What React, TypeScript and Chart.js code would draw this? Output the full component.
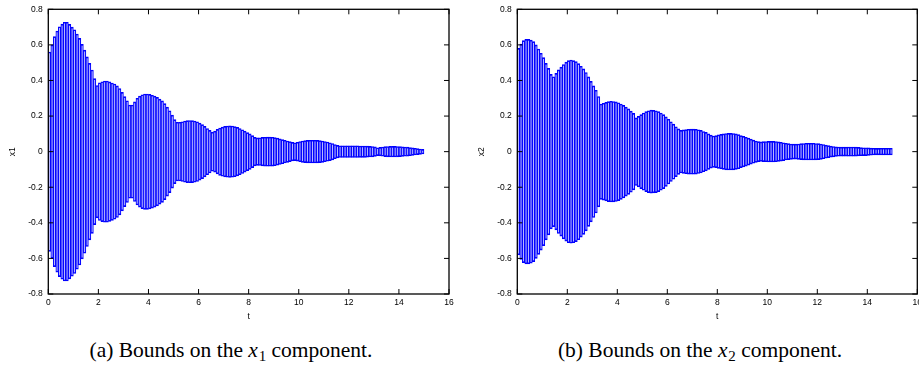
import React, { useEffect, useRef } from 'react';
import { Chart, registerables } from 'chart.js';

Chart.register(...registerables);

// start time of each interval (step 0.1)
const timeStarts = [
  0.0, 0.1, 0.2, 0.3, 0.4, 0.5, 0.6, 0.7, 0.8, 0.9,
  1.0, 1.1, 1.2, 1.3, 1.4, 1.5, 1.6, 1.7, 1.8, 1.9,
  2.0, 2.1, 2.2, 2.3, 2.4, 2.5, 2.6, 2.7, 2.8, 2.9,
  3.0, 3.1, 3.2, 3.3, 3.4, 3.5, 3.6, 3.7, 3.8, 3.9,
  4.0, 4.1, 4.2, 4.3, 4.4, 4.5, 4.6, 4.7, 4.8, 4.9,
  5.0, 5.1, 5.2, 5.3, 5.4, 5.5, 5.6, 5.7, 5.8, 5.9,
  6.0, 6.1, 6.2, 6.3, 6.4, 6.5, 6.6, 6.7, 6.8, 6.9,
  7.0, 7.1, 7.2, 7.3, 7.4, 7.5, 7.6, 7.7, 7.8, 7.9,
  8.0, 8.1, 8.2, 8.3, 8.4, 8.5, 8.6, 8.7, 8.8, 8.9,
  9.0, 9.1, 9.2, 9.3, 9.4, 9.5, 9.6, 9.7, 9.8, 9.9,
  10.0, 10.1, 10.2, 10.3, 10.4, 10.5, 10.6, 10.7, 10.8, 10.9,
  11.0, 11.1, 11.2, 11.3, 11.4, 11.5, 11.6, 11.7, 11.8, 11.9,
  12.0, 12.1, 12.2, 12.3, 12.4, 12.5, 12.6, 12.7, 12.8, 12.9,
  13.0, 13.1, 13.2, 13.3, 13.4, 13.5, 13.6, 13.7, 13.8, 13.9,
  14.0, 14.1, 14.2, 14.3, 14.4, 14.5, 14.6, 14.7, 14.8, 14.9,
];
const STEP = 0.1;

const x1Upper = [
  0.56, 0.60, 0.646, 0.678, 0.702, 0.717, 0.727, 0.727, 0.715, 0.70,
  0.685, 0.661, 0.637, 0.603, 0.571, 0.533, 0.496, 0.459, 0.41, 0.372,
  0.387, 0.393, 0.397, 0.397, 0.392, 0.386, 0.38, 0.37, 0.355, 0.333,
  0.309, 0.286, 0.262, 0.262, 0.28, 0.30, 0.312, 0.32, 0.324, 0.324,
  0.322, 0.317, 0.312, 0.305, 0.295, 0.285, 0.27, 0.25, 0.23, 0.205,
  0.18, 0.165, 0.165, 0.168, 0.172, 0.174, 0.175, 0.174, 0.172, 0.168,
  0.16, 0.152, 0.142, 0.13, 0.12, 0.11, 0.115, 0.125, 0.133, 0.138,
  0.142, 0.144, 0.145, 0.144, 0.141, 0.136, 0.13, 0.123, 0.115, 0.107,
  0.1, 0.09, 0.08, 0.077, 0.078, 0.08, 0.081, 0.082, 0.082, 0.081,
  0.079, 0.076, 0.072, 0.068, 0.064, 0.06, 0.056, 0.052, 0.05, 0.053,
  0.057, 0.06, 0.062, 0.063, 0.064, 0.064, 0.064, 0.063, 0.062, 0.06,
  0.057, 0.054, 0.05, 0.046, 0.04, 0.035, 0.033, 0.033, 0.033, 0.033,
  0.033, 0.033, 0.033, 0.033, 0.032, 0.032, 0.032, 0.031, 0.03, 0.029,
  0.027, 0.022, 0.024, 0.026, 0.028, 0.029, 0.03, 0.03, 0.03, 0.029,
  0.028, 0.027, 0.026, 0.025, 0.023, 0.021, 0.019, 0.017, 0.015, 0.013,
];
const x1Lower = [
  -0.56, -0.60, -0.646, -0.678, -0.702, -0.717, -0.727, -0.727, -0.715, -0.70,
  -0.685, -0.661, -0.637, -0.603, -0.571, -0.533, -0.496, -0.459, -0.41, -0.372,
  -0.387, -0.393, -0.397, -0.397, -0.392, -0.386, -0.38, -0.37, -0.355, -0.333,
  -0.309, -0.286, -0.262, -0.262, -0.28, -0.30, -0.312, -0.32, -0.324, -0.324,
  -0.322, -0.317, -0.312, -0.305, -0.295, -0.285, -0.27, -0.25, -0.23, -0.205,
  -0.18, -0.165, -0.165, -0.168, -0.172, -0.174, -0.175, -0.174, -0.172, -0.168,
  -0.16, -0.152, -0.142, -0.13, -0.12, -0.11, -0.115, -0.125, -0.133, -0.138,
  -0.142, -0.144, -0.145, -0.144, -0.141, -0.136, -0.13, -0.123, -0.115, -0.107,
  -0.1, -0.09, -0.08, -0.077, -0.078, -0.08, -0.081, -0.082, -0.082, -0.081,
  -0.079, -0.076, -0.072, -0.068, -0.064, -0.06, -0.056, -0.052, -0.05, -0.053,
  -0.057, -0.06, -0.062, -0.063, -0.064, -0.064, -0.064, -0.063, -0.062, -0.06,
  -0.057, -0.054, -0.05, -0.046, -0.04, -0.035, -0.033, -0.033, -0.033, -0.033,
  -0.033, -0.033, -0.033, -0.033, -0.032, -0.032, -0.032, -0.031, -0.03, -0.029,
  -0.027, -0.022, -0.024, -0.026, -0.028, -0.029, -0.03, -0.03, -0.03, -0.029,
  -0.028, -0.027, -0.026, -0.025, -0.023, -0.021, -0.019, -0.017, -0.015, -0.013,
];

const x2Upper = [
  0.58, 0.605, 0.624, 0.631, 0.631, 0.627, 0.618, 0.60, 0.577, 0.553,
  0.528, 0.496, 0.468, 0.434, 0.421, 0.44, 0.46, 0.475, 0.49, 0.503,
  0.512, 0.515, 0.512, 0.506, 0.495, 0.48, 0.465, 0.445, 0.42, 0.395,
  0.37, 0.345, 0.31, 0.268, 0.272, 0.277, 0.281, 0.283, 0.282, 0.28,
  0.275, 0.268, 0.26, 0.25, 0.24, 0.228, 0.215, 0.19, 0.198, 0.208,
  0.217, 0.225, 0.23, 0.233, 0.232, 0.23, 0.225, 0.217, 0.208, 0.195,
  0.182, 0.168, 0.155, 0.14, 0.128, 0.12, 0.122, 0.124, 0.126, 0.127,
  0.127, 0.126, 0.123, 0.12, 0.113, 0.108, 0.1, 0.093, 0.088, 0.09,
  0.094, 0.097, 0.1, 0.102, 0.103, 0.103, 0.102, 0.1, 0.096, 0.09,
  0.086, 0.081, 0.076, 0.07, 0.065, 0.06, 0.056, 0.055, 0.056, 0.057,
  0.058, 0.058, 0.058, 0.057, 0.055, 0.053, 0.05, 0.047, 0.045, 0.043,
  0.042, 0.042, 0.043, 0.045, 0.046, 0.047, 0.047, 0.047, 0.047, 0.046,
  0.045, 0.043, 0.04, 0.037, 0.034, 0.031, 0.029, 0.027, 0.026, 0.025,
  0.025, 0.025, 0.026, 0.026, 0.026, 0.025, 0.024, 0.023, 0.022, 0.022,
  0.021, 0.02, 0.019, 0.018, 0.018, 0.019, 0.019, 0.019, 0.019, 0.019,
];
const x2Lower = [
  -0.58, -0.605, -0.624, -0.631, -0.631, -0.627, -0.618, -0.60, -0.577, -0.553,
  -0.528, -0.496, -0.468, -0.434, -0.421, -0.44, -0.46, -0.475, -0.49, -0.503,
  -0.512, -0.515, -0.512, -0.506, -0.495, -0.48, -0.465, -0.445, -0.42, -0.395,
  -0.37, -0.345, -0.31, -0.268, -0.272, -0.277, -0.281, -0.283, -0.282, -0.28,
  -0.275, -0.268, -0.26, -0.25, -0.24, -0.228, -0.215, -0.19, -0.198, -0.208,
  -0.217, -0.225, -0.23, -0.233, -0.232, -0.23, -0.225, -0.217, -0.208, -0.195,
  -0.182, -0.168, -0.155, -0.14, -0.128, -0.12, -0.122, -0.124, -0.126, -0.127,
  -0.127, -0.126, -0.123, -0.12, -0.113, -0.108, -0.1, -0.093, -0.088, -0.09,
  -0.094, -0.097, -0.1, -0.102, -0.103, -0.103, -0.102, -0.1, -0.096, -0.09,
  -0.086, -0.081, -0.076, -0.07, -0.065, -0.06, -0.056, -0.055, -0.056, -0.057,
  -0.058, -0.058, -0.058, -0.057, -0.055, -0.053, -0.05, -0.047, -0.045, -0.043,
  -0.042, -0.042, -0.043, -0.045, -0.046, -0.047, -0.047, -0.047, -0.047, -0.046,
  -0.045, -0.043, -0.04, -0.037, -0.034, -0.031, -0.029, -0.027, -0.026, -0.025,
  -0.025, -0.025, -0.026, -0.026, -0.026, -0.025, -0.024, -0.023, -0.022, -0.022,
  -0.021, -0.02, -0.019, -0.018, -0.018, -0.019, -0.019, -0.019, -0.019, -0.019,
];

const xTickValues = [0, 2, 4, 6, 8, 10, 12, 14, 16];
const xTickLabels = ['0', '2', '4', '6', '8', '10', '12', '14', '16'];
const yTickValues = [-0.8, -0.6, -0.4, -0.2, 0, 0.2, 0.4, 0.6, 0.8];
const yTickLabels = ['-0.8', '-0.6', '-0.4', '-0.2', '0', '0.2', '0.4', '0.6', '0.8'];

const FONT = { family: '"Liberation Sans", Arial, sans-serif', size: 8.5 };
const CANVAS_H = 330;
const PLOT_TOP = 9.3;
const PLOT_BOTTOM = 294;

const framePlugin = {
  id: 'gnuFrame',
  afterDatasetsDraw(chart: any) {
    const { ctx, chartArea: a, scales } = chart;
    const xs = scales.x;
    const ys = scales.y;
    const L = 5;
    ctx.save();
    ctx.strokeStyle = '#000';
    ctx.lineWidth = 1;
    ctx.beginPath();
    xTickValues.forEach((v) => {
      const px = xs.getPixelForValue(v);
      ctx.moveTo(px, a.bottom);
      ctx.lineTo(px, a.bottom - L);
      ctx.moveTo(px, a.top);
      ctx.lineTo(px, a.top + L);
    });
    yTickValues.forEach((v) => {
      const py = ys.getPixelForValue(v);
      ctx.moveTo(a.left, py);
      ctx.lineTo(a.left + L, py);
      ctx.moveTo(a.right, py);
      ctx.lineTo(a.right - L, py);
    });
    ctx.stroke();
    ctx.lineWidth = 1.3;
    ctx.strokeRect(a.left, a.top, a.right - a.left, a.bottom - a.top);
    ctx.restore();
  },
};

type PanelProps = {
  upper: number[];
  lower: number[];
  yTitle: string;
  width: number;
  plotLeft: number;
  plotRightPad: number;
  yTitlePad: number;
};

function BoundsPanel({ upper, lower, yTitle, width, plotLeft, plotRightPad, yTitlePad }: PanelProps) {
  const ref = useRef<HTMLCanvasElement | null>(null);
  useEffect(() => {
    if (!ref.current) return;
    const points = timeStarts.map((t, i) => ({ x: t + STEP / 2, y: [lower[i], upper[i]] }));
    const chart = new Chart(ref.current, {
      type: 'bar',
      data: {
        datasets: [
          {
            data: points as any,
            backgroundColor: 'rgba(60,60,255,0.22)',
            borderColor: '#0000ff',
            borderWidth: { left: 0.5, right: 0.5, top: 1, bottom: 1 } as any,
            borderSkipped: false,
            barPercentage: 1,
            categoryPercentage: 1,
            grouped: false,
          } as any,
        ],
      },
      options: {
        animation: false,
        responsive: false,
        devicePixelRatio: 1,
        events: [],
        layout: { padding: { left: 0, top: PLOT_TOP, right: plotRightPad, bottom: 0 } },
        plugins: { legend: { display: false }, tooltip: { enabled: false } },
        scales: {
          x: {
            type: 'linear',
            min: 0,
            max: 16,
            offset: false,
            grid: { display: false, drawTicks: false, offset: false },
            border: { display: false },
            afterBuildTicks: (s: any) => {
              s.ticks = xTickValues.map((v) => ({ value: v }));
            },
            ticks: {
              callback: (_v: any, i: number) => xTickLabels[i],
              padding: 3.6,
              font: FONT,
              color: '#000',
              maxRotation: 0,
              autoSkip: false,
            },
            title: { display: true, text: 't', font: FONT, color: '#000', padding: { top: 0, bottom: 8.2 } },
            afterFit: (s: any) => {
              s.height = CANVAS_H - PLOT_BOTTOM;
              s.paddingLeft = 0;
              s.paddingRight = 0;
            },
          } as any,
          y: {
            type: 'linear',
            min: -0.8,
            max: 0.8,
            grid: { display: false, drawTicks: false },
            border: { display: false },
            afterBuildTicks: (s: any) => {
              s.ticks = yTickValues.map((v) => ({ value: v }));
            },
            ticks: {
              callback: (_v: any, i: number) => yTickLabels[i],
              padding: 5.5,
              font: FONT,
              color: '#000',
              autoSkip: false,
            },
            title: { display: true, text: yTitle, font: FONT, color: '#000', padding: { top: yTitlePad, bottom: 0 } },
            afterFit: (s: any) => {
              s.width = plotLeft;
              s.paddingTop = 0;
              s.paddingBottom = 0;
            },
          } as any,
        },
      },
      plugins: [framePlugin],
    });
    return () => chart.destroy();
  }, [upper, lower, yTitle, width, plotLeft, plotRightPad, yTitlePad]);
  return <canvas ref={ref} width={width} height={CANVAS_H} style={{ width, height: CANVAS_H, display: 'block' }} />;
}

const captionStyle: React.CSSProperties = {
  position: 'absolute',
  top: 336,
  fontFamily: '"Liberation Serif", "Times New Roman", serif',
  fontSize: 21.5,
  lineHeight: '28px',
  textAlign: 'center',
  color: '#000',
  whiteSpace: 'nowrap',
};

function MathX({ sub }: { sub: string }) {
  return (
    <span>
      <span style={{ fontStyle: 'italic' }}>x</span>
      <span style={{ fontSize: '0.7em', position: 'relative', top: '0.25em', marginLeft: '0.05em' }}>{sub}</span>
    </span>
  );
}

export default function App() {
  return (
    <div style={{ position: 'absolute', left: 0, top: 0, width: 919, height: 367, overflow: 'hidden', background: '#fff' }}>
      <div style={{ position: 'absolute', left: 0, top: 0 }}>
        <BoundsPanel upper={x1Upper} lower={x1Lower} yTitle="x1" width={460} plotLeft={48.3} plotRightPad={11} yTitlePad={7.4} />
      </div>
      <div style={{ position: 'absolute', left: 460, top: 0 }}>
        <BoundsPanel upper={x2Upper} lower={x2Lower} yTitle="x2" width={459} plotLeft={57.3} plotRightPad={1.7} yTitlePad={16.6} />
      </div>
      <div style={{ ...captionStyle, left: 0, width: 462 }}>
        (a) Bounds on the <MathX sub="1" /> component.
      </div>
      <div style={{ ...captionStyle, left: 460, width: 480 }}>
        (b) Bounds on the <MathX sub="2" /> component.
      </div>
    </div>
  );
}
